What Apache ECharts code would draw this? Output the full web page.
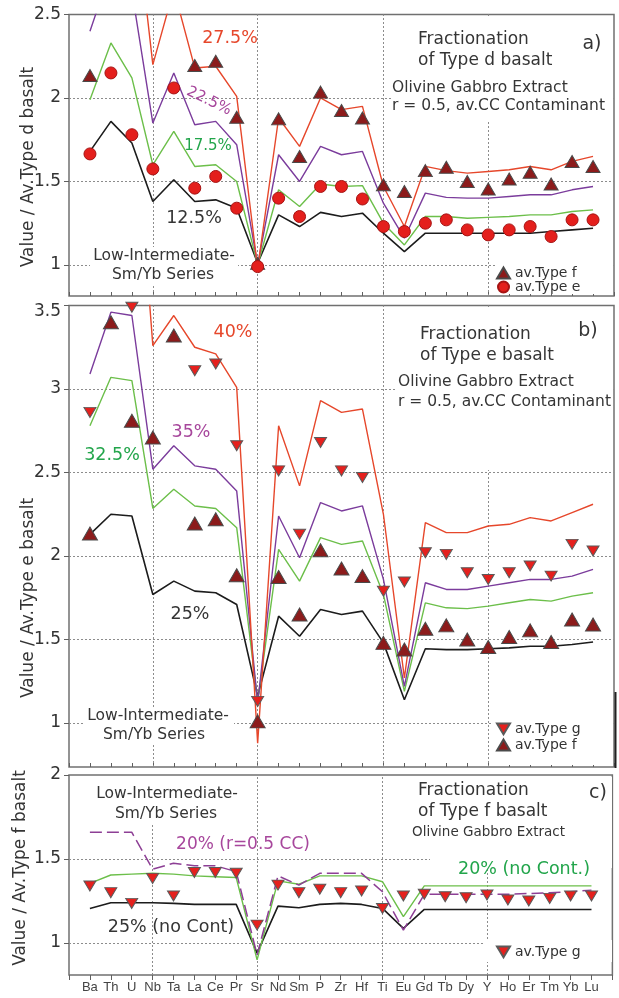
<!DOCTYPE html>
<html>
<head>
<meta charset="utf-8">
<title>Fractionation models</title>
<script src="https://cdn.jsdelivr.net/npm/echarts@6/dist/echarts.min.js"></script>
<style>
  html, body { margin: 0; padding: 0; background: #ffffff; }
  #chart { width: 619px; height: 998px; }
</style>
</head>
<body>
<div id="chart"></div>
<script>
// Element order along the x axis
const elements = ['Ba','Th','U','Nb','Ta','La','Ce','Pr','Sr','Nd','Sm','P','Zr','Hf','Ti','Eu','Gd','Tb','Dy','Y','Ho','Er','Tm','Yb','Lu'];

// Panel a) fractionation of Type d basalt (normalised to av. Type d)
const dFrac125 = [1.68,1.86,1.73,1.38,1.51,1.38,1.39,1.34,1.01,1.30,1.23,1.315,1.29,1.31,1.19,1.08,1.19,1.19,1.19,1.19,1.19,1.19,1.20,1.21,1.22];
const dFrac175 = [1.99,2.33,2.12,1.60,1.80,1.59,1.60,1.50,1.00,1.45,1.35,1.485,1.47,1.475,1.25,1.12,1.29,1.29,1.28,1.285,1.29,1.30,1.30,1.32,1.33];
const dFrac225 = [2.40,2.77,2.64,1.85,2.15,1.84,1.86,1.72,1.00,1.66,1.50,1.71,1.66,1.68,1.37,1.16,1.43,1.405,1.40,1.40,1.41,1.42,1.42,1.45,1.47];
const dFrac275 = [2.90,3.40,3.30,2.20,2.65,2.18,2.19,2.01,0.98,1.88,1.71,2.00,1.93,1.95,1.47,1.23,1.59,1.565,1.55,1.56,1.57,1.59,1.57,1.62,1.65];
const avTypeE = [1.665,2.15,1.78,1.575,2.06,1.46,1.53,1.34,0.99,1.40,1.29,1.47,1.47,1.395,1.23,1.20,1.25,1.27,1.21,1.18,1.21,1.23,1.17,1.27,1.27];
const avTypeF = [2.135,3.40,2.81,2.71,3.32,2.195,2.22,1.885,1.01,1.875,1.65,2.035,1.925,1.88,1.48,1.44,1.565,1.585,1.50,1.455,1.515,1.555,1.485,1.62,1.59];

// Panel b) fractionation of Type e basalt (normalised to av. Type e)
const eFrac25  = [2.13,2.25,2.24,1.77,1.85,1.79,1.78,1.71,1.16,1.64,1.52,1.68,1.65,1.67,1.48,1.14,1.445,1.44,1.44,1.445,1.45,1.46,1.46,1.47,1.485];
const eFrac325 = [2.78,3.07,3.05,2.285,2.40,2.30,2.285,2.17,1.13,2.04,1.85,2.11,2.07,2.09,1.77,1.19,1.72,1.69,1.685,1.70,1.72,1.74,1.73,1.76,1.78];
const eFrac35  = [3.09,3.46,3.44,2.52,2.66,2.54,2.52,2.39,1.12,2.24,1.99,2.32,2.27,2.30,1.86,1.22,1.84,1.80,1.80,1.82,1.84,1.86,1.86,1.88,1.92];
const eFrac40  = [4.20,5.00,4.90,3.26,3.44,3.25,3.21,3.01,0.88,2.78,2.42,2.93,2.86,2.88,2.25,1.27,2.20,2.14,2.14,2.18,2.19,2.23,2.21,2.26,2.31];
const avTypeGonE = [2.86,4.42,3.49,3.75,4.25,3.11,3.15,2.66,1.13,2.51,2.13,2.68,2.51,2.47,1.79,1.845,2.02,2.01,1.90,1.86,1.90,1.94,1.88,2.07,2.03];

// Panel c) fractionation of Type f basalt (normalised to av. Type f)
const fFrac25NoCont = [1.206,1.24,1.24,1.24,1.236,1.23,1.23,1.23,0.94,1.22,1.21,1.23,1.236,1.23,1.206,1.087,1.20,1.20,1.20,1.20,1.20,1.20,1.20,1.20,1.20];
const fFrac20NoCont = [1.355,1.405,1.41,1.415,1.41,1.40,1.395,1.39,0.90,1.37,1.35,1.40,1.40,1.40,1.365,1.157,1.34,1.34,1.34,1.34,1.34,1.34,1.34,1.34,1.34];
const fFrac20CC     = [1.66,1.66,1.66,1.44,1.475,1.46,1.46,1.425,0.93,1.40,1.345,1.415,1.415,1.415,1.305,1.077,1.29,1.29,1.29,1.29,1.29,1.295,1.30,1.305,1.315];
const avTypeGonF = [1.34,1.30,1.236,1.385,1.28,1.42,1.42,1.415,1.107,1.345,1.30,1.32,1.30,1.31,1.206,1.28,1.29,1.276,1.27,1.286,1.256,1.25,1.266,1.28,1.28];

// Axis ranges, tick values and reference lines per panel
const yMin = [0.814, 0.737, 0.81];
const yMax = [2.5, 3.5, 2.0];
const yTicks = [[1, 1.5, 2, 2.5], [1, 1.5, 2, 2.5, 3, 3.5], [1, 1.5, 2]];
const yGridLines = [[1, 1.5, 2], [1, 1.5, 2, 2.5, 3], [1, 1.5]];
const xGridLines = ['Nb', 'Sr', 'Ti', 'Y'];
const yNames = ['Value / Av.Type d basalt', 'Value / Av.Type e basalt', 'Value / Av.Type f basalt'];

const axisCats = [' ', ...elements, '  '];
const FONT = '"DejaVu Sans", "Liberation Sans", sans-serif';
const RED = '#e6472b', PURPLE = '#7b3c9c', GREEN = '#6cbf4a', BLACK = '#1c1c1c';
const PURPLE_TXT = '#a7479c', GREEN_TXT = '#22a54b', TXT = '#353535';

const pairs = vals => vals.map((v, i) => [elements[i], v]).filter(p => p[1] !== null);

const grids = [
  { left: 69, top: 14.5, width: 545, height: 281.5 },
  { left: 69, top: 305.5, width: 545, height: 461.5 },
  { left: 69, top: 775, width: 545, height: 200 }
].map(g => Object.assign({ show: true, borderColor: '#707070', borderWidth: 1.5, backgroundColor: 'transparent' }, g));

const xAxes = [0, 1, 2].map(i => ({
  type: 'category', gridIndex: i, data: axisCats, boundaryGap: false,
  axisLine: { show: false },
  axisTick: { show: true, inside: i < 2, length: i < 2 ? 4 : 5, interval: 0, lineStyle: { color: '#606060', width: 1 } },
  axisLabel: { show: i === 2, interval: 0, fontFamily: '"Liberation Sans", Arial, sans-serif', fontSize: 13, color: '#444', margin: 6 },
  splitLine: { show: false }
}));

// the top label of panel b sits a little below the frame line
const yAxes = [0, 1, 2].map(i => ({
  type: 'value', gridIndex: i, min: yMin[i], max: yMax[i],
  axisLine: { show: false },
  axisTick: { show: true, customValues: yTicks[i], length: 5, lineStyle: { color: '#606060', width: 1 } },
  axisLabel: {
    customValues: yTicks[i], fontFamily: FONT, fontSize: 17, color: '#333', margin: 8,
    formatter: v => (i === 1 && v === 3.5) ? '{low|3.5}' : String(v),
    rich: { low: { fontFamily: FONT, fontSize: 17, color: '#333', padding: [12, 0, 0, 0] } }
  },
  splitLine: { show: false }
}));

function gridLineSeries(i) {
  return {
    type: 'line', xAxisIndex: i, yAxisIndex: i, data: [], silent: true, z: 1,
    markLine: {
      silent: true, symbol: 'none', z: 1, animation: false,
      label: { show: false },
      lineStyle: { type: [2, 2], color: '#8c8c8c', width: 1 },
      data: [...yGridLines[i].map(v => ({ yAxis: v })), ...xGridLines.map(e => ({ xAxis: e }))]
    }
  };
}

function line(name, vals, i, color, extra) {
  return {
    type: 'line', name, xAxisIndex: i, yAxisIndex: i, data: pairs(vals),
    symbol: 'none', silent: true, clip: true, z: 20,
    lineStyle: Object.assign({ color, width: 1.4 }, extra || {})
  };
}

const DOWN_TRI = 'path://M0,0L12,0L6,10Z';

function marks(name, vals, i, symbol, size, fill, stroke) {
  return {
    type: 'scatter', name, xAxisIndex: i, yAxisIndex: i, data: pairs(vals),
    symbol, symbolSize: size, clip: true, z: 30, silent: true,
    itemStyle: { color: fill, borderColor: stroke, borderWidth: 1, opacity: 1 }
  };
}

const series = [
  gridLineSeries(0), gridLineSeries(1), gridLineSeries(2),
  // a)
  line('12.5%', dFrac125, 0, BLACK, { width: 1.6 }),
  line('17.5%', dFrac175, 0, GREEN),
  line('22.5%', dFrac225, 0, PURPLE),
  line('27.5%', dFrac275, 0, RED),
  marks('av.Type f', avTypeF, 0, 'triangle', [14, 12], '#8c1b1b', '#4a4a4a'),
  marks('av.Type e', avTypeE, 0, 'circle', 12, '#e41f1c', '#a51414'),
  // b)
  line('25%', eFrac25, 1, BLACK, { width: 1.6 }),
  line('32.5%', eFrac325, 1, GREEN),
  line('35%', eFrac35, 1, PURPLE),
  line('40%', eFrac40, 1, RED),
  marks('av.Type g', avTypeGonE, 1, DOWN_TRI, [12, 10], '#e5201d', '#5a5a5a'),
  marks('av.Type f', avTypeF, 1, 'triangle', [15, 13], '#8c1b1b', '#4a4a4a'),
  // c)
  line('25% (no Cont)', fFrac25NoCont, 2, BLACK, { width: 1.6 }),
  line('20% (no Cont.)', fFrac20NoCont, 2, GREEN),
  line('20% (r=0.5 CC)', fFrac20CC, 2, '#8d3f95', { type: [12, 5], width: 1.5 }),
  marks('av.Type g', avTypeGonF, 2, DOWN_TRI, [12, 10], '#e5201d', '#5a5a5a')
];

function legendAt(names, left, top, gap) {
  return {
    data: names, orient: 'vertical', left, top, padding: 0, itemGap: gap,
    itemWidth: 13, itemHeight: 11, selectedMode: false, z: 40,
    textStyle: { fontFamily: FONT, fontSize: 14, color: '#333', lineHeight: 12 }
  };
}

// Graphic helpers: white boxes behind text blocks and free text
const box = (x, y, w, h) => ({ type: 'rect', z: 10, silent: true, shape: { x, y, width: w, height: h }, style: { fill: '#ffffff' } });
const txt = (text, x, y, size, color, align, rot) => ({
  type: 'text', x, y, z: 40, silent: true, rotation: rot || 0,
  style: { text, fill: color || TXT, fontFamily: FONT, fontSize: size, align: align || 'center', verticalAlign: 'middle' }
});

const graphics = [
  // a)
  box(391, 16, 221, 104), box(90, 247, 148, 38), box(495, 262, 117, 32),
  txt('27.5%', 230, 38, 17.5, RED),
  txt('22.5%', 209, 101, 15, PURPLE_TXT, 'center', -0.45),
  txt('17.5%', 208, 146, 15, GREEN_TXT),
  txt('12.5%', 194, 218, 17.5, TXT),
  txt('Low-Intermediate-', 164, 256, 15.5), txt('Sm/Yb Series', 163, 275, 15.5),
  txt('Fractionation', 418, 40, 17, TXT, 'left'), txt('of Type d basalt', 418, 61, 17, TXT, 'left'),
  txt('a)', 592, 44, 19),
  txt('Olivine Gabbro Extract', 392, 88, 15.5, TXT, 'left'),
  txt('r = 0.5, av.CC Contaminant', 392, 106, 15.5, TXT, 'left'),
  txt(yNames[0], 29, 167, 17, TXT, 'center', Math.PI / 2),
  // b)
  box(395, 307, 217, 163), box(84, 707, 150, 38), box(491, 719, 121, 46),
  txt('40%', 233, 332, 17.5, RED),
  txt('35%', 191, 432, 17.5, PURPLE_TXT),
  txt('32.5%', 112, 455, 17.5, GREEN_TXT),
  txt('25%', 190, 614, 17.5, TXT),
  txt('Low-Intermediate-', 158, 716, 15.5), txt('Sm/Yb Series', 154, 735, 15.5),
  txt('Fractionation', 420, 335, 17, TXT, 'left'), txt('of Type e basalt', 420, 356, 17, TXT, 'left'),
  txt('b)', 588, 331, 19),
  txt('Olivine Gabbro Extract', 398, 382, 15.5, TXT, 'left'),
  txt('r = 0.5, av.CC Contaminant', 398, 402, 15.5, TXT, 'left'),
  txt(yNames[1], 29, 598, 17, TXT, 'center', Math.PI / 2),
  // c)
  box(93, 777, 148, 48), box(430, 777, 182, 91), box(484, 940, 128, 22),
  txt('Low-Intermediate-', 167, 794, 15.5), txt('Sm/Yb Series', 166, 814, 15.5),
  txt('20% (r=0.5 CC)', 243, 845, 17, PURPLE_TXT),
  txt('25% (no Cont)', 171, 927, 17.5, TXT),
  txt('Fractionation', 418, 791, 17, TXT, 'left'), txt('of Type f basalt', 418, 812, 17, TXT, 'left'),
  txt('c)', 598, 793, 19),
  txt('Olivine Gabbro Extract', 412, 832, 13.5, TXT, 'left'),
  txt('20% (no Cont.)', 524, 869, 17.5, GREEN_TXT),
  txt(yNames[2], 21, 868, 17, TXT, 'center', Math.PI / 2),
  // dark edge on the right frame of panel b
  { type: 'line', z: 12, silent: true, shape: { x1: 615.5, y1: 692, x2: 615.5, y2: 768 }, style: { stroke: '#222', lineWidth: 2 } }
];

const chart = echarts.init(document.getElementById('chart'), null, { renderer: 'canvas' });
chart.setOption({
  animation: false,
  backgroundColor: '#ffffff',
  grid: grids,
  xAxis: xAxes,
  yAxis: yAxes,
  legend: [
    legendAt(['av.Type f', 'av.Type e'], 496, 266, 0),
    legendAt(['av.Type g', 'av.Type f'], 496, 722, 2),
    legendAt(['av.Type g'], 496, 945, 0)
  ],
  graphic: { elements: graphics },
  series
});
</script>
</body>
</html>
